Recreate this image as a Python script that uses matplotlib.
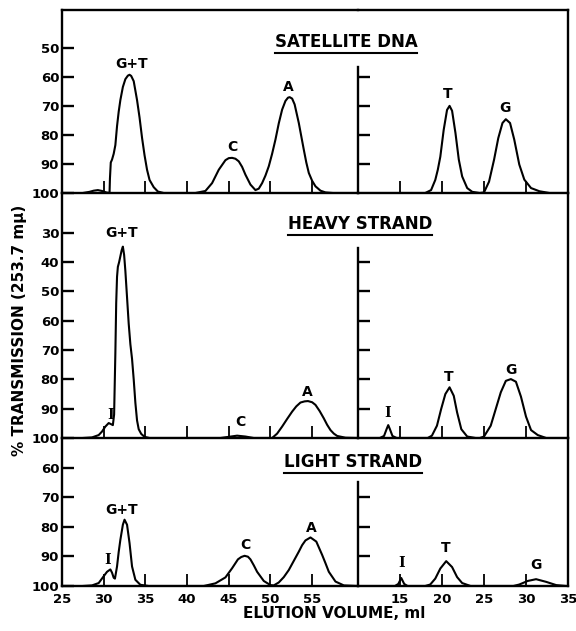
import matplotlib
matplotlib.use('Agg')
import matplotlib.pyplot as plt
from matplotlib.lines import Line2D

plt.rcParams['font.family'] = ['DejaVu Sans']
plt.rcParams['font.weight'] = 'bold'

# ---------------- data (elution volume ml, % transmission) ----------------
sat_left_x = [27.5, 28.3, 28.8, 29.3, 29.8, 30.3, 30.7, 30.75, 30.85, 31.0, 31.2, 31.4, 31.6, 31.8,
              32.0, 32.3, 32.6, 32.9, 33.1, 33.3, 33.6, 34.0, 34.3, 34.6, 34.9, 35.2, 35.5, 36.0,
              36.5, 37.2, 41.0, 42.2, 43.0, 43.8, 44.6, 45.0, 45.4, 45.8, 46.2, 46.6, 47.0, 47.6,
              48.2, 48.6, 49.0, 49.4, 49.8, 50.2, 50.6, 51.0, 51.4, 51.8, 52.1, 52.3, 52.6, 52.9,
              53.4, 53.7, 54.0, 54.3, 54.6, 55.0, 55.4, 56.0, 56.6, 57.5, 60.5]
sat_left_v = [100, 99.6, 99.2, 99.0, 99.3, 99.8, 100, 95, 89.5, 88.5, 86.5, 83.5, 77, 72,
              68, 63.5, 60.8, 59.6, 59.3, 59.7, 61.5, 68, 74, 81, 87, 92, 95.5, 98,
              99.5, 100, 100, 99.3, 96.6, 92, 88.7, 88.0, 87.9, 88.2, 89.1, 91.0, 93.7, 97.1,
              99.0, 98.5, 96.6, 94, 90.8, 86.5, 81.6, 76, 71.3, 68.3, 67.2, 67.0, 67.5, 69.5,
              75.9, 80.5, 85.1, 89.5, 93.1, 95.8, 97.7, 99.2, 99.8, 100, 100]

sat_right_x = [10.0, 18.0, 18.7, 19.2, 19.5, 19.8, 20.2, 20.6, 20.9, 21.2, 21.6, 22.0, 22.4, 23.0,
               23.6, 24.5, 25.0, 25.6, 26.2, 26.7, 27.2, 27.6, 28.1, 28.6, 29.2, 29.8, 30.6,
               31.6, 32.8, 35.0]
sat_right_v = [100, 100, 99.0, 95.5, 92, 87.5, 78.3, 71.4, 70.0, 71.7, 79.3, 88.5, 94.3, 98.3,
               99.6, 100, 99.8, 96.1, 88.5, 81.1, 75.9, 74.6, 75.9, 81.6, 90.2, 95.4, 98.3,
               99.4, 100, 100]

heavy_left_x = [27.5, 28.6, 29.4, 29.8, 30.2, 30.6, 30.9, 31.1, 31.25, 31.4, 31.5, 31.6, 31.7,
                31.85, 32.0, 32.15, 32.3, 32.45, 32.6, 32.8, 33.0, 33.2, 33.4, 33.6, 33.8, 34.0,
                34.2, 34.5, 34.9, 35.5, 44.0, 45.0, 46.0, 47.0, 48.0, 50.2, 50.8, 51.4, 52.0,
                52.6, 53.1, 53.6, 54.1, 54.5, 55.0, 55.4, 55.9, 56.4, 56.8, 57.2, 57.6, 58.0,
                59.0, 60.5]
heavy_left_v = [100, 99.8, 99.0, 97.8, 96.1, 94.9, 95.3, 95.6, 92, 71, 54, 45, 41.6,
                40, 38, 36, 34.7, 37.5, 43, 52, 61, 68, 73, 80, 88, 94,
                97, 98.6, 99.6, 100, 100, 99.6, 99.2, 99.5, 100, 100, 98.5, 96.1, 93.5,
                91, 89.2, 87.9, 87.5, 87.4, 87.8, 88.7, 90.8, 93.3, 95.5, 97.3, 98.5, 99.3,
                99.9, 100]

heavy_right_x = [10.0, 12.6, 13.1, 13.4, 13.6, 13.8, 14.1, 14.6, 18.3, 18.8, 19.4, 19.9, 20.4,
                 20.9, 21.4, 21.8, 22.3, 23.0, 24.0, 24.5, 25.0, 25.8, 26.4, 27.0, 27.6, 28.2,
                 28.8, 29.4, 30.0, 30.6, 31.4, 32.4, 35.0]
heavy_right_v = [100, 100, 99.3, 97, 95.6, 97, 99.3, 100, 100, 99.2, 95.8, 90.1, 85,
                 82.7, 85.6, 91.3, 97, 99.5, 100, 100, 99.5, 95.8, 90.1, 84.4, 80.5, 79.9,
                 80.8, 85.9, 92.7, 97.3, 99, 100, 100]

light_left_x = [27.5, 28.6, 29.4, 30.0, 30.4, 30.8, 31.0, 31.2, 31.35, 31.6, 31.8, 32.0, 32.3,
                32.5, 32.8, 33.1, 33.4, 33.8, 34.4, 35.4, 42.0, 43.4, 44.6, 45.4, 46.1, 46.5,
                46.9, 47.3, 47.6, 48.0, 48.4, 49.2, 50.0, 50.4, 51.0, 51.6, 52.2, 52.8, 53.4,
                53.8, 54.2, 54.8, 55.5, 56.2, 56.6, 57.0, 57.8, 58.8, 60.5]
light_left_v = [100, 99.8, 99.0, 96.7, 95.2, 94.4, 95.5, 97.2, 97.5, 93.4, 88.5, 84.4, 79.3,
                77.6, 79.3, 85.5, 93.4, 97.9, 99.6, 100, 100, 99.1, 97.1, 94, 91, 90.2,
                89.8, 90.1, 91, 93, 95.2, 98.3, 99.7, 99.8, 98.8, 97.0, 94.6, 91.5, 88.4,
                86.2, 84.6, 83.6, 85, 89.5, 92.3, 95.2, 98.5, 99.8, 100]

light_right_x = [10.0, 14.4, 14.8, 15.15, 15.5, 15.9, 18.0, 18.6, 19.2, 19.8, 20.5, 21.2, 21.8,
                 22.4, 23.4, 28.5, 29.2, 30.2, 31.2, 32.4, 33.6, 34.8, 35.0]
light_right_v = [100, 100, 99.3, 97.3, 99.3, 100, 100, 99.5, 97.5, 94.1, 91.6, 93.6, 97,
                 99, 100, 100, 99.5, 98.3, 97.7, 98.6, 99.7, 100, 100]

panel_titles = ['SATELLITE DNA', 'HEAVY STRAND', 'LIGHT STRAND']
left_yticks = [[50, 60, 70, 80, 90, 100],
               [30, 40, 50, 60, 70, 80, 90, 100],
               [60, 70, 80, 90, 100]]
right_yticks = [[60, 70, 80, 90], [40, 50, 60, 70, 80, 90], [70, 80, 90]]
left_xticks = [25, 30, 35, 40, 45, 50, 55]
right_xticks = [15, 20, 25, 30, 35]

# peak labels: (text, ml, %T)
sat_left_labels = [('G+T', 33.3, 55.6), ('C', 45.4, 84.0), ('A', 52.1, 63.4)]
sat_right_labels = [('T', 20.7, 65.9), ('G', 27.5, 70.8)]
heavy_left_labels = [('I', 30.8, 92.2), ('G+T', 32.2, 30.0), ('C', 46.4, 94.5), ('A', 54.4, 84.3)]
heavy_right_labels = [('I', 13.5, 91.5), ('T', 20.8, 79.2), ('G', 28.2, 76.8)]
light_left_labels = [('I', 30.5, 91.2), ('G+T', 32.2, 74.2), ('C', 47.0, 86.1), ('A', 54.9, 80.3)]
light_right_labels = [('I', 15.2, 92.2), ('T', 20.4, 87.1), ('G', 31.2, 92.9)]

# ---------------- layout ----------------
W, H = 576, 631
fig = plt.figure(figsize=(W / 100, H / 100), dpi=100)


def rect(x0, y0, x1, y1):
    return [x0 / W, 1 - y1 / H, (x1 - x0) / W, (y1 - y0) / H]


XL0, XDIV, XR1 = 62, 358, 568
rows = [
    dict(top_px=10, bot_px=193, ytop=37.0, divtop=56.5,
         lx=sat_left_x, lv=sat_left_v, rx=sat_right_x, rv=sat_right_v,
         llab=sat_left_labels, rlab=sat_right_labels),
    dict(top_px=193, bot_px=438, ytop=16.4, divtop=35.0,
         lx=heavy_left_x, lv=heavy_left_v, rx=heavy_right_x, rv=heavy_right_v,
         llab=heavy_left_labels, rlab=heavy_right_labels),
    dict(top_px=438, bot_px=586, ytop=50.0, divtop=65.0,
         lx=light_left_x, lv=light_left_v, rx=light_right_x, rv=light_right_v,
         llab=light_left_labels, rlab=light_right_labels),
]

LW = 1.5
SLW = 1.7
TICKLEN = 8.5
FS_TICK = 9.5
FS_PEAK = 10

for i, r in enumerate(rows):
    last = (i == len(rows) - 1)
    axl = fig.add_axes(rect(XL0, r['top_px'], XDIV, r['bot_px']))
    axr = fig.add_axes(rect(XDIV, r['top_px'], XR1, r['bot_px']))
    for ax in (axl, axr):
        ax.set_facecolor('none')
        ax.set_ylim(100, r['ytop'])
        for s in ax.spines.values():
            s.set_linewidth(SLW)
        ax.spines['top'].set_visible(i == 0)
    axl.spines['right'].set_visible(False)

    axl.plot(r['lx'], r['lv'], color='black', lw=LW, solid_joinstyle='round')
    axr.plot(r['rx'], r['rv'], color='black', lw=LW, solid_joinstyle='round')

    axl.set_xlim(25, 60.5)
    axr.set_xlim(10, 35)

    axl.set_yticks(left_yticks[i])
    axl.set_yticklabels([str(t) for t in left_yticks[i]])
    axl.tick_params(axis='y', direction='in', length=TICKLEN, width=SLW, pad=2,
                    labelsize=FS_TICK)
    axr.set_yticks(right_yticks[i])
    axr.tick_params(axis='y', direction='in', length=TICKLEN, width=SLW, labelleft=False)
    axr.spines['left'].set_bounds(100, r['divtop'])

    axl.set_xticks(left_xticks)
    axr.set_xticks(right_xticks)
    for ax in (axl, axr):
        ax.tick_params(axis='x', direction='in', length=TICKLEN, width=1.3, pad=5,
                       labelsize=FS_TICK, labelbottom=last)
    axl.set_xticklabels([str(t) for t in left_xticks])
    axr.set_xticklabels([str(t) for t in right_xticks])

    for ax, labs in ((axl, r['llab']), (axr, r['rlab'])):
        for s, x, v in labs:
            fam = ['DejaVu Serif'] if s == 'I' else ['DejaVu Sans']
            ax.text(x, v, s, ha='center', va='center', fontsize=FS_PEAK,
                    fontweight='bold', family=fam)

# panel titles (underlined)
title_pos = [(346, 42), (360, 224), (353, 462)]
title_objs = []
for s, (x, y) in zip(panel_titles, title_pos):
    t = fig.text(x / W, 1 - y / H, s, ha='center', va='center', fontsize=12,
                 fontweight='bold')
    title_objs.append(t)

fig.text(20 / W, 1 - 330 / H, '% TRANSMISSION (253.7 m\u03bc)', rotation=90,
         ha='center', va='center', fontsize=11, fontweight='bold')
fig.text(334 / W, 1 - 613 / H, 'ELUTION VOLUME, ml', ha='center', va='center',
         fontsize=11, fontweight='bold')

renderer = fig.canvas.get_renderer()
for t in title_objs:
    bb = t.get_window_extent(renderer)
    yline = (bb.y0 - 2) / H
    fig.add_artist(Line2D([bb.x0 / W, bb.x1 / W], [yline, yline], color='black',
                          lw=1.5, transform=fig.transFigure))

fig.savefig('out.png', dpi=100)
